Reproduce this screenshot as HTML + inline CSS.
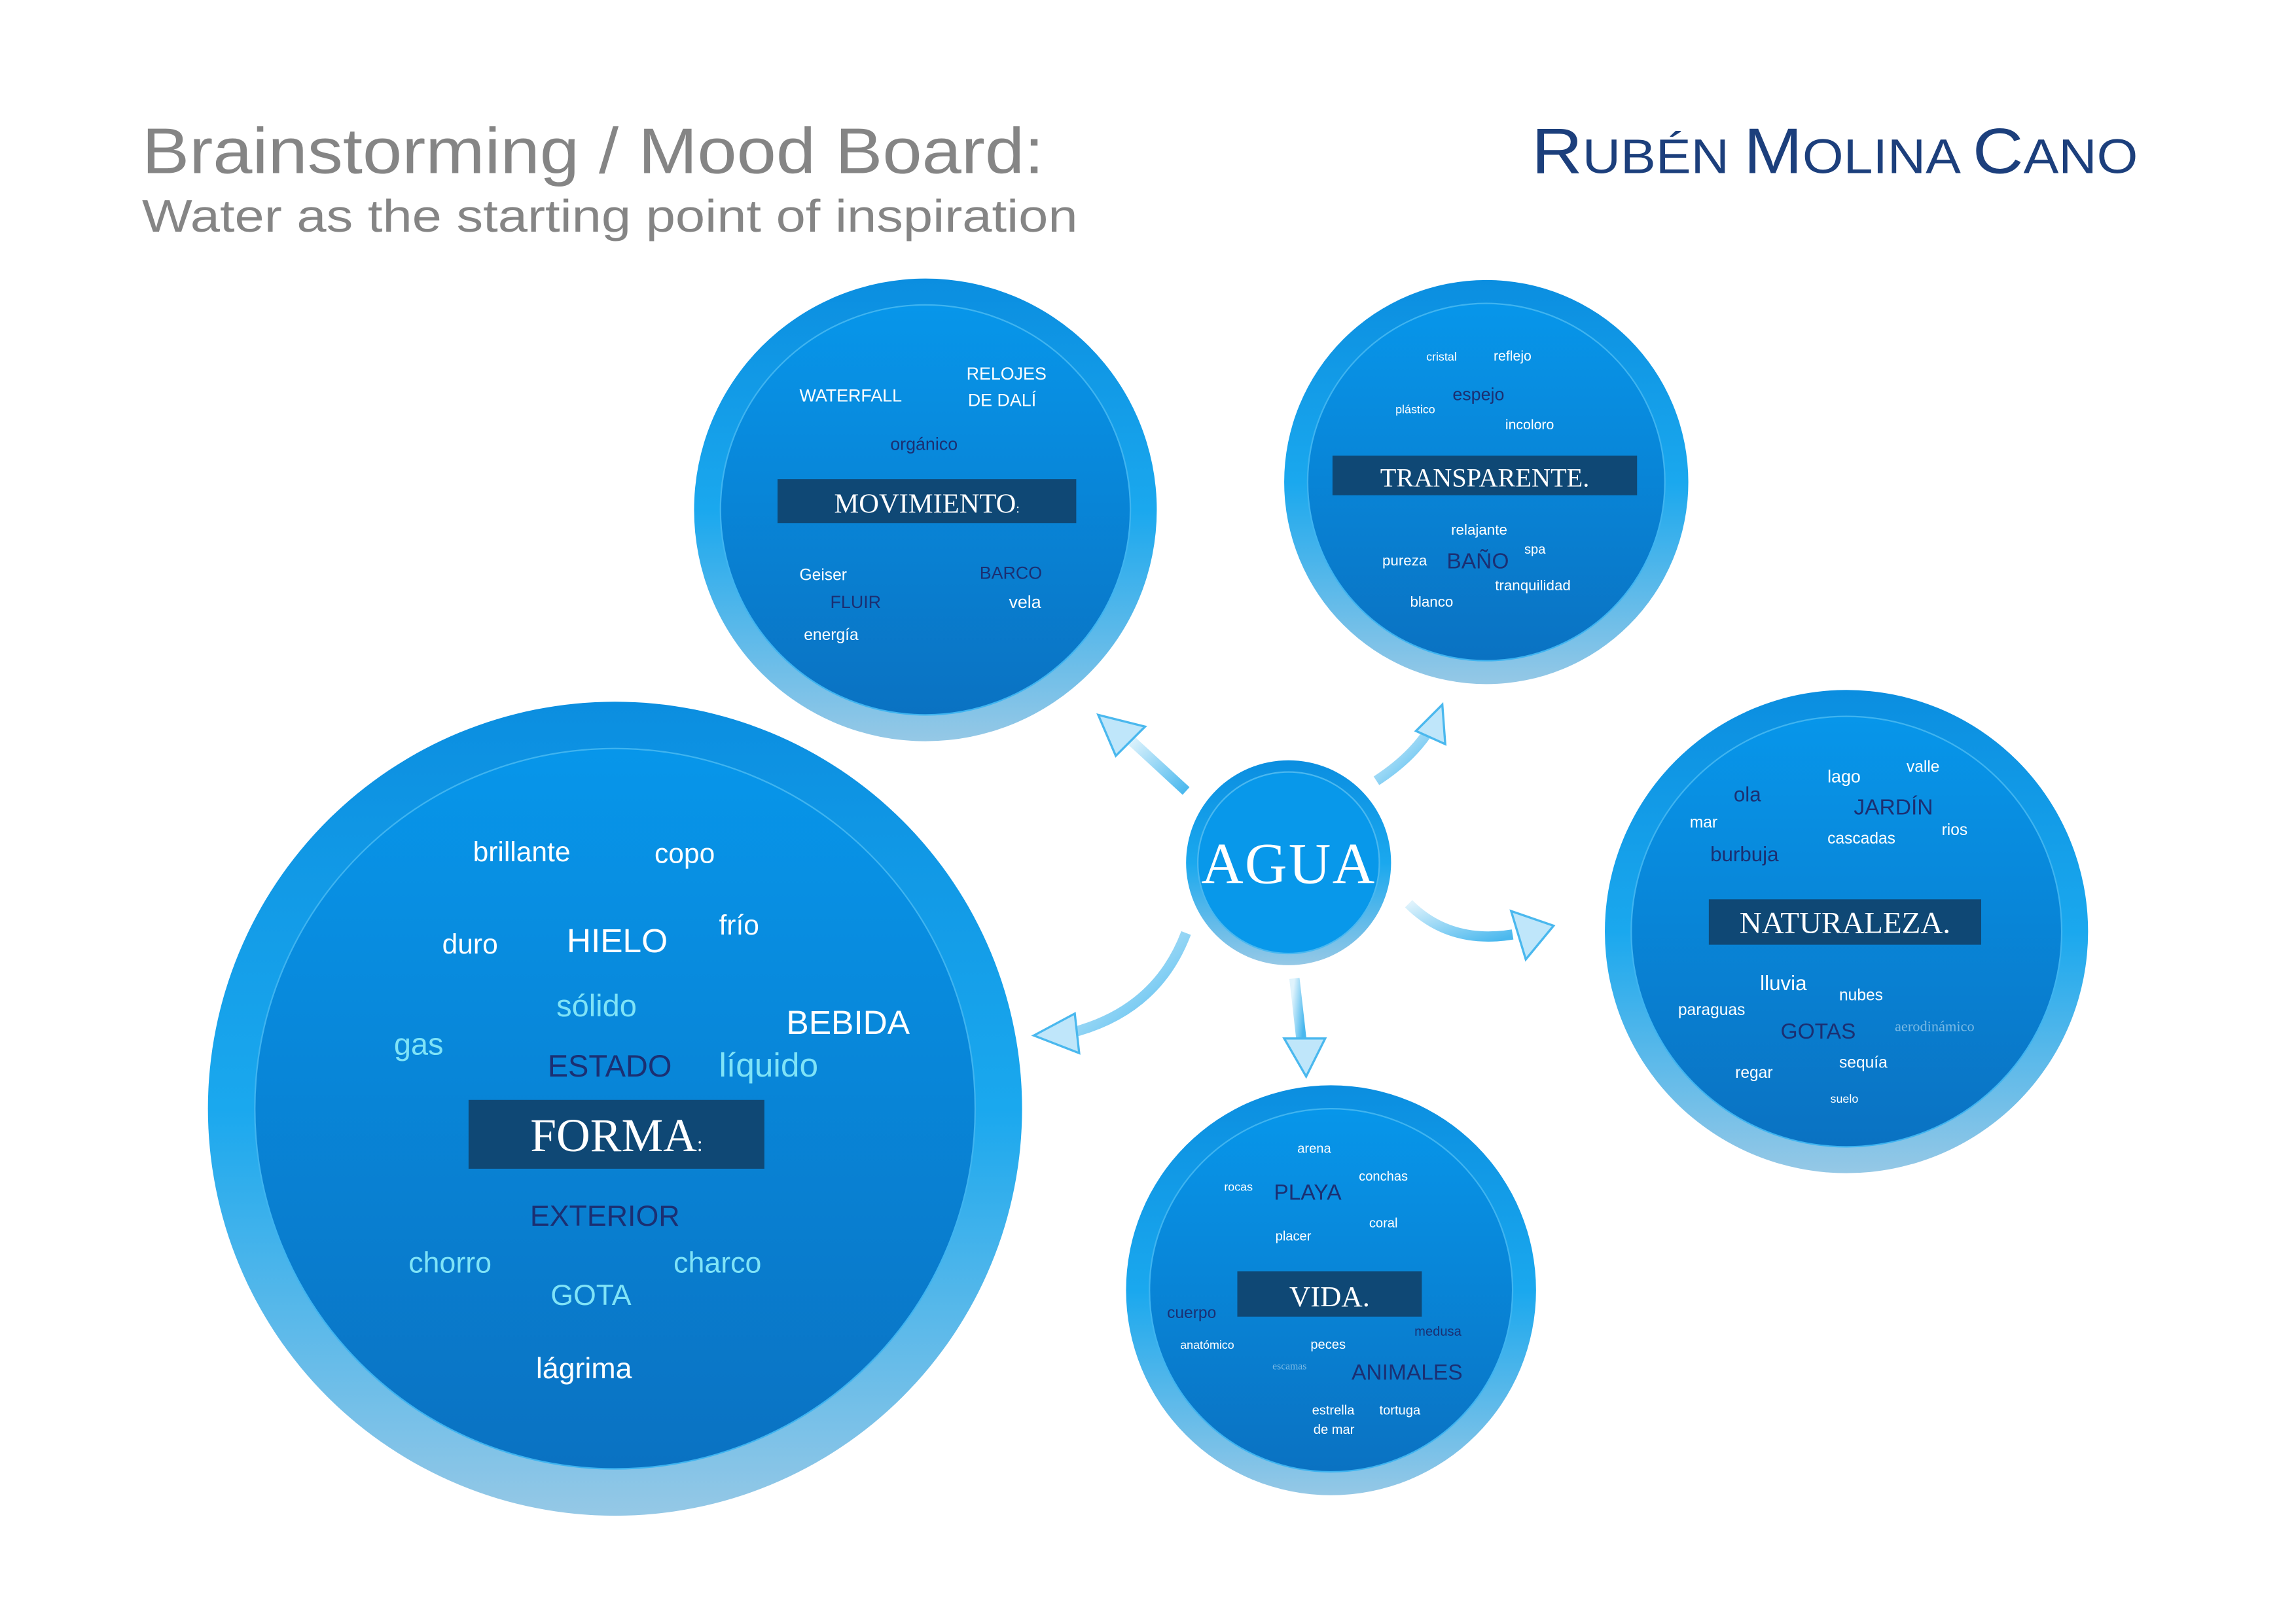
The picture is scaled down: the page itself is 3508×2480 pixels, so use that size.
<!DOCTYPE html>
<html><head><meta charset="utf-8">
<style>
html,body{margin:0;padding:0;background:#fff;}
svg{display:block;}
text{font-family:"Liberation Sans",sans-serif;}
text.s{font-family:"Liberation Serif",serif;}
.w{fill:#ffffff}.n{fill:#1b2f72}.c{fill:#7fe3f7}
</style></head><body>
<svg width="3508" height="2480" viewBox="0 0 1568 1108" xmlns="http://www.w3.org/2000/svg">
<defs>
<linearGradient id="ring" x1="0" y1="0" x2="0" y2="1">
<stop offset="0" stop-color="#0b8ee0"/><stop offset="0.5" stop-color="#1aa8ee"/><stop offset="1" stop-color="#95c8e6"/></linearGradient>
<linearGradient id="inner" x1="0" y1="0" x2="0" y2="1">
<stop offset="0" stop-color="#0796ea"/><stop offset="1" stop-color="#0a72c2"/></linearGradient>
<linearGradient id="arr" x1="0" y1="0" x2="1" y2="1">
<stop offset="0" stop-color="#dff3fc"/><stop offset="1" stop-color="#4ab8ee"/></linearGradient>
</defs>

<text x="97" y="118" font-size="44" fill="#858585" textLength="616" lengthAdjust="spacingAndGlyphs">Brainstorming / Mood Board:</text>
<text x="97" y="158" font-size="31" fill="#858585" textLength="639" lengthAdjust="spacingAndGlyphs">Water as the starting point of inspiration</text>
<text x="1046" y="118" font-size="44" fill="#1c3f7c" textLength="414" lengthAdjust="spacingAndGlyphs">R<tspan font-size="33">UBÉN </tspan>M<tspan font-size="33">OLINA </tspan>C<tspan font-size="33">ANO</tspan></text>

<g>
<circle cx="632" cy="348" r="158" fill="url(#ring)"/><circle cx="632" cy="348" r="140" fill="url(#inner)" stroke="#3fb4f0" stroke-width="1"/>
<circle cx="1015" cy="329" r="138" fill="url(#ring)"/><circle cx="1015" cy="329" r="122" fill="url(#inner)" stroke="#3fb4f0" stroke-width="1"/>
<circle cx="1261" cy="636" r="165" fill="url(#ring)"/><circle cx="1261" cy="636" r="147" fill="url(#inner)" stroke="#3fb4f0" stroke-width="1"/>
<circle cx="909" cy="881" r="140" fill="url(#ring)"/><circle cx="909" cy="881" r="124" fill="url(#inner)" stroke="#3fb4f0" stroke-width="1"/>
<circle cx="420" cy="757" r="278" fill="url(#ring)"/><circle cx="420" cy="757" r="246" fill="url(#inner)" stroke="#3fb4f0" stroke-width="1"/>
<circle cx="880" cy="589" r="70" fill="url(#ring)"/><circle cx="880" cy="589" r="62" fill="#0898ea" stroke="#4ab8f0" stroke-width="1"/>
</g>

<g fill="none" stroke="url(#arr)" stroke-width="7" stroke-linecap="butt">
<path d="M810 540 L772 505"/>
<path d="M940 533 Q963 518 975 500"/>
<path d="M962 617 Q990 645 1033 638"/>
<path d="M884 668 L889 712"/>
<path d="M810 637 Q790 690 732 705"/>
</g>
<g fill="#bfe6fa" stroke="#4ab8ee" stroke-width="1.5">
<polygon points="750,488 782,496 762,516"/>
<polygon points="985,481 987,508 967,499"/>
<polygon points="1061,632 1042,655 1032,622"/>
<polygon points="892,735 877,709 905,709"/>
<polygon points="706,707 734,692 737,719"/>
</g>

<text x="880" y="603" font-size="40" class="s w" text-anchor="middle" letter-spacing="1">AGUA</text>

<g fill="#0f4875">
<rect x="531" y="327" width="204" height="30"/>
<rect x="910" y="311" width="208" height="27"/>
<rect x="1167" y="614" width="186" height="31"/>
<rect x="845" y="868" width="126" height="31"/>
<rect x="320" y="751" width="202" height="47"/>
</g>
<text x="633" y="350" font-size="19" class="s w" text-anchor="middle">MOVIMIENTO<tspan font-size="9">:</tspan></text>
<text x="1014" y="332" font-size="18" class="s w" text-anchor="middle">TRANSPARENTE.</text>
<text x="1260" y="637" font-size="21" class="s w" text-anchor="middle">NATURALEZA.</text>
<text x="908" y="892" font-size="20" class="s w" text-anchor="middle">VIDA.</text>
<text x="421" y="786" font-size="32" class="s w" text-anchor="middle">FORMA<tspan font-size="14">:</tspan></text>

<text x="546" y="274" font-size="12" class="w">WATERFALL</text>
<text x="660" y="259" font-size="12" class="w">RELOJES</text>
<text x="661" y="277" font-size="12" class="w">DE DALÍ</text>
<text x="608" y="307" font-size="12" class="n">orgánico</text>
<text x="546" y="396" font-size="11" class="w">Geiser</text>
<text x="669" y="395" font-size="12" class="n">BARCO</text>
<text x="567" y="415" font-size="12" class="n">FLUIR</text>
<text x="689" y="415" font-size="12" class="w">vela</text>
<text x="549" y="437" font-size="11" class="w">energía</text>

<text x="974" y="246" font-size="8" class="w">cristal</text>
<text x="1020" y="246" font-size="9.5" class="w">reflejo</text>
<text x="953" y="282" font-size="8" class="w">plástico</text>
<text x="992" y="273" font-size="12" class="n">espejo</text>
<text x="1028" y="293" font-size="9.5" class="w">incoloro</text>
<text x="991" y="365" font-size="10" class="w">relajante</text>
<text x="1041" y="378" font-size="9" class="w">spa</text>
<text x="944" y="386" font-size="10" class="w">pureza</text>
<text x="988" y="388" font-size="15" class="n">BAÑO</text>
<text x="1021" y="403" font-size="10" class="w">tranquilidad</text>
<text x="963" y="414" font-size="10" class="w">blanco</text>

<text x="1248" y="534" font-size="12" class="w">lago</text>
<text x="1302" y="527" font-size="11" class="w">valle</text>
<text x="1184" y="547" font-size="14" class="n">ola</text>
<text x="1266" y="556" font-size="15" class="n">JARDÍN</text>
<text x="1154" y="565" font-size="11" class="w">mar</text>
<text x="1248" y="576" font-size="11" class="w">cascadas</text>
<text x="1326" y="570" font-size="11" class="w">rios</text>
<text x="1168" y="588" font-size="14" class="n">burbuja</text>
<text x="1202" y="676" font-size="14" class="w">lluvia</text>
<text x="1256" y="683" font-size="11" class="w">nubes</text>
<text x="1146" y="693" font-size="11" class="w">paraguas</text>
<text x="1216" y="709" font-size="15" class="n">GOTAS</text>
<text x="1294" y="704" font-size="10" class="s" fill="#79b9e4">aerodinámico</text>
<text x="1256" y="729" font-size="11" class="w">sequía</text>
<text x="1185" y="736" font-size="11" class="w">regar</text>
<text x="1250" y="753" font-size="8" class="w">suelo</text>

<text x="886" y="787" font-size="9" class="w">arena</text>
<text x="836" y="813" font-size="8" class="w">rocas</text>
<text x="870" y="819" font-size="15" class="n">PLAYA</text>
<text x="928" y="806" font-size="9" class="w">conchas</text>
<text x="935" y="838" font-size="9" class="w">coral</text>
<text x="871" y="847" font-size="9" class="w">placer</text>
<text x="797" y="900" font-size="11" class="n">cuerpo</text>
<text x="966" y="912" font-size="9" class="n">medusa</text>
<text x="806" y="921" font-size="8" class="w">anatómico</text>
<text x="895" y="921" font-size="9" class="w">peces</text>
<text x="869" y="935" font-size="7" class="s" fill="#79b9e4">escamas</text>
<text x="923" y="942" font-size="15" class="n">ANIMALES</text>
<text x="896" y="966" font-size="9" class="w">estrella</text>
<text x="897" y="979" font-size="9" class="w">de mar</text>
<text x="942" y="966" font-size="9" class="w">tortuga</text>

<text x="323" y="588" font-size="19" class="w">brillante</text>
<text x="447" y="589" font-size="19" class="w">copo</text>
<text x="302" y="651" font-size="19" class="w">duro</text>
<text x="387" y="650" font-size="23" class="w">HIELO</text>
<text x="491" y="638" font-size="19" class="w">frío</text>
<text x="380" y="694" font-size="21" class="c">sólido</text>
<text x="537" y="706" font-size="23" class="w">BEBIDA</text>
<text x="269" y="720" font-size="21" class="c">gas</text>
<text x="374" y="735" font-size="21" class="n">ESTADO</text>
<text x="491" y="735" font-size="23" class="c">líquido</text>
<text x="362" y="837" font-size="20" class="n">EXTERIOR</text>
<text x="279" y="869" font-size="20" class="c">chorro</text>
<text x="460" y="869" font-size="20" class="c">charco</text>
<text x="376" y="891" font-size="20" class="c">GOTA</text>
<text x="366" y="941" font-size="20" class="w">lágrima</text>
</svg>
</body></html>
